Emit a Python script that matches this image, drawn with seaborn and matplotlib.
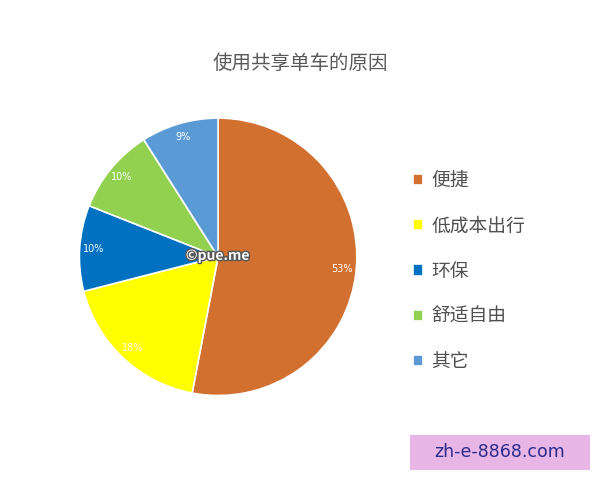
import matplotlib.pyplot as plt
import matplotlib.patheffects as pe
from matplotlib.patches import Rectangle
import seaborn as sns

sns.set_style("white")
plt.rcParams['font.family'] = ['Noto Sans CJK SC', 'DejaVu Sans']

# reasons for using shared bikes
reasons = ['便捷', '低成本出行', '环保', '舒适自由', '其它']
shares = [53, 18, 10, 10, 9]
colors = ['#D2702F', '#FFFF00', '#0070C0', '#92D050', '#5B9BD5']

fig = plt.figure(figsize=(6, 4.8), dpi=100)
ax = fig.add_axes([0.13, 0.172, 0.467, 0.586])

wedges, texts, autotexts = ax.pie(
    shares, colors=colors, startangle=90, counterclock=False,
    autopct=lambda p: '%d%%' % round(p), pctdistance=0.9,
    wedgeprops=dict(edgecolor='white', linewidth=1.2))
for t in autotexts:
    t.set_color('white')
    t.set_fontsize(7)
    t.set_family('DejaVu Sans')
ax.set_xlim(-1.01, 1.01)
ax.set_ylim(-1.01, 1.01)
ax.set_aspect('equal')

fig.text(0.5, 0.868, '使用共享单车的原因', ha='center', va='center',
         fontsize=14, color='#595959')

leg = fig.legend(wedges, reasons, loc='center left', bbox_to_anchor=(0.66, 0.435),
                 frameon=False, fontsize=13.5, handlelength=0.55, handleheight=0.55,
                 labelspacing=1.3, handletextpad=0.45)
for t in leg.get_texts():
    t.set_color('#505050')

# watermark and site tag
fig.text(0.363, 0.467, '©pue.me', ha='center', va='center', fontsize=10,
         color='white', fontweight='bold',
         path_effects=[pe.withStroke(linewidth=2, foreground='#555555')])
fig.add_artist(Rectangle((0.683, 0.021), 0.3, 0.073, transform=fig.transFigure,
                         facecolor='#E8B6E6', edgecolor='none'))
fig.text(0.833, 0.058, 'zh-e-8868.com', ha='center', va='center', fontsize=12.5,
         color='#2B2B8C', family='DejaVu Sans')

fig.savefig('out.png', dpi=100)
